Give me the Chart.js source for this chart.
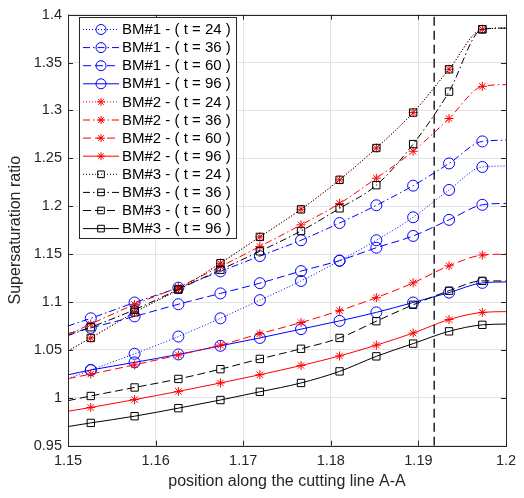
<!DOCTYPE html>
<html>
<head>
<meta charset="utf-8">
<script src="https://cdn.jsdelivr.net/npm/chart.js@4.4.1/dist/chart.umd.min.js"></script>
<style>
  body { margin: 0; background: #fff; }
  #wrap { width: 524px; height: 498px; }
</style>
</head>
<body>
<div id="wrap"><canvas id="ssChart" width="524" height="498"></canvas></div>
<script>
// marker positions along the cutting line (first/last points are the line ends, no marker)
const xPos = [1.15, 1.1526, 1.1576, 1.1626, 1.1674, 1.1719, 1.1766, 1.1810, 1.1852, 1.1894, 1.1935, 1.1973, 1.2];
const cutX = 1.1918;

const xTicks = [1.15, 1.16, 1.17, 1.18, 1.19, 1.2];
const yTicks = [0.95, 1, 1.05, 1.1, 1.15, 1.2, 1.25, 1.3, 1.35, 1.4];

const labels = [
    "BM#1 - ( t = 24 )", "BM#1 - ( t = 36 )", "BM#1 - ( t = 60 )", "BM#1 - ( t = 96 )",
    "BM#2 - ( t = 24 )", "BM#2 - ( t = 36 )", "BM#2 - ( t = 60 )", "BM#2 - ( t = 96 )",
    "BM#3 - ( t = 24 )", "BM#3 - ( t = 36 )", "BM#3 - ( t = 60 )", "BM#3 - ( t = 96 )"
];

const bm1_24 = [1.020, 1.029, 1.046, 1.064, 1.083, 1.102, 1.122, 1.143, 1.1645, 1.1885, 1.217, 1.241, 1.242];
const bm1_36 = [1.075, 1.083, 1.0995, 1.115, 1.132, 1.148, 1.1645, 1.1825, 1.201, 1.2215, 1.2447, 1.2677, 1.269];
const bm1_60 = [1.067, 1.073, 1.085, 1.0977, 1.109, 1.1197, 1.1323, 1.1433, 1.1567, 1.169, 1.1858, 1.2015, 1.203];
const bm1_96 = [1.024, 1.029, 1.037, 1.0453, 1.0543, 1.0625, 1.0717, 1.0803, 1.0892, 1.0995, 1.1098, 1.120, 1.121];
const bm2_24 = [1.049, 1.0625, 1.0892, 1.113, 1.1406, 1.168, 1.1968, 1.2276, 1.2608, 1.2978, 1.343, 1.3848, 1.386];
const bm2_36 = [1.066, 1.077, 1.0975, 1.1156, 1.137, 1.158, 1.1806, 1.2029, 1.2293, 1.2574, 1.2916, 1.3252, 1.327];
const bm2_60 = [1.020, 1.0248, 1.0344, 1.0447, 1.055, 1.0669, 1.0786, 1.091, 1.1046, 1.120, 1.1378, 1.1491, 1.150];
const bm2_96 = [0.986, 0.9899, 0.9981, 1.0067, 1.0155, 1.0241, 1.0337, 1.0437, 1.055, 1.0676, 1.0817, 1.0892, 1.090];
const bm3_24 = [1.049, 1.0625, 1.0892, 1.113, 1.1406, 1.168, 1.1968, 1.2276, 1.2608, 1.2978, 1.343, 1.3848, 1.386];
const bm3_36 = [1.065, 1.0737, 1.092, 1.1132, 1.1337, 1.153, 1.1742, 1.1978, 1.222, 1.2649, 1.3197, 1.3848, 1.386];
const bm3_60 = [0.997, 1.0019, 1.0108, 1.0197, 1.0299, 1.0406, 1.0512, 1.0625, 1.080, 1.0971, 1.1118, 1.1221, 1.122];
const bm3_96 = [0.970, 0.9738, 0.9808, 0.9892, 0.9977, 1.0063, 1.0155, 1.0276, 1.0433, 1.0566, 1.0694, 1.0762, 1.077];

const allSeries = [bm1_24, bm1_36, bm1_60, bm1_96, bm2_24, bm2_36, bm2_60, bm2_96, bm3_24, bm3_36, bm3_60, bm3_96];

const colors = ["#0000ff", "#ff0000", "#000000"];
const markers = ["circle", "star", "rect"];
const markerRadius = { circle: 5.5, star: 4.5, rect: 5.2 };
const dashes = [[1, 2], [7, 3, 1.5, 3], [8, 4], []];

const FONT = "'Liberation Sans', Arial, sans-serif";
const TXT = "#262626";

const datasets = allSeries.map((vals, i) => {
    const group = Math.floor(i / 4);
    const style = markers[group];
    const r = markerRadius[style];
    return {
        label: labels[i],
        data: vals.map((v, k) => ({ x: xPos[k], y: v })),
        showLine: true,
        borderColor: colors[group],
        backgroundColor: "rgba(0,0,0,0)",
        borderWidth: 1,
        borderDash: dashes[i % 4],
        cubicInterpolationMode: "monotone",
        pointStyle: style,
        pointRadius: vals.map((v, k) => (k === 0 || k === vals.length - 1) ? 0 : r),
        pointBorderColor: colors[group],
        pointBackgroundColor: "rgba(0,0,0,0)",
        pointBorderWidth: 1,
        order: -i
    };
});

// the dashed vertical marker line
datasets.push({
    label: "cut",
    data: [{ x: cutX, y: yTicks[0] }, { x: cutX, y: yTicks[yTicks.length - 1] }],
    showLine: true,
    borderColor: "#000",
    borderWidth: 1.3,
    borderDash: [9, 5],
    pointRadius: 0,
    order: -20
});

function drawMarker(ctx, style, x, y, r) {
    ctx.beginPath();
    if (style === "circle") {
        ctx.arc(x, y, r, 0, Math.PI * 2);
    } else if (style === "rect") {
        const s = Math.SQRT1_2 * r;
        ctx.rect(x - s, y - s, 2 * s, 2 * s);
    } else {
        for (let a = 0; a < 4; a++) {
            const ang = a * Math.PI / 4;
            ctx.moveTo(x - Math.cos(ang) * r, y - Math.sin(ang) * r);
            ctx.lineTo(x + Math.cos(ang) * r, y + Math.sin(ang) * r);
        }
    }
    ctx.stroke();
}

const framePlugin = {
    id: "frame",
    afterDraw(chart) {
        const ctx = chart.ctx;
        const a = chart.chartArea;
        const xs = chart.scales.x, ys = chart.scales.y;
        ctx.save();
        // box and inward ticks
        ctx.strokeStyle = TXT;
        ctx.lineWidth = 1;
        ctx.setLineDash([]);
        ctx.strokeRect(Math.round(a.left) + 0.5, Math.round(a.top) + 0.5,
            Math.round(a.right - a.left), Math.round(a.bottom - a.top));
        ctx.beginPath();
        xTicks.forEach(t => {
            const px = Math.round(xs.getPixelForValue(t)) + 0.5;
            ctx.moveTo(px, a.bottom); ctx.lineTo(px, a.bottom - 5);
            ctx.moveTo(px, a.top); ctx.lineTo(px, a.top + 5);
        });
        yTicks.forEach(t => {
            const py = Math.round(ys.getPixelForValue(t)) + 0.5;
            ctx.moveTo(a.left, py); ctx.lineTo(a.left + 5, py);
            ctx.moveTo(a.right, py); ctx.lineTo(a.right - 5, py);
        });
        ctx.stroke();

        // axis titles
        ctx.fillStyle = TXT;
        ctx.font = "16px " + FONT;
        ctx.textAlign = "center";
        ctx.textBaseline = "middle";
        ctx.fillText("position along the cutting line A-A", (a.left + a.right) / 2, 482);
        ctx.save();
        ctx.translate(16, (a.top + a.bottom) / 2);
        ctx.rotate(-Math.PI / 2);
        ctx.fillText("Supersaturation ratio", 0, 0);
        ctx.restore();

        // legend
        const lx = 79, ly = 17, lw = 157, lh = 221;
        ctx.fillStyle = "#fff";
        ctx.fillRect(lx, ly, lw, lh);
        ctx.strokeStyle = TXT;
        ctx.strokeRect(lx + 0.5, ly + 0.5, lw, lh);
        ctx.font = "15px " + FONT;
        ctx.textAlign = "left";
        labels.forEach((txt, i) => {
            const group = Math.floor(i / 4);
            const cy = 29.5 + i * 18.1;
            ctx.strokeStyle = colors[group];
            ctx.lineWidth = 1;
            ctx.setLineDash(dashes[i % 4]);
            ctx.beginPath();
            ctx.moveTo(83, cy); ctx.lineTo(119, cy);
            ctx.stroke();
            ctx.setLineDash([]);
            drawMarker(ctx, markers[group], 101, cy, markerRadius[markers[group]] - 0.5);
            ctx.fillStyle = "#000";
            ctx.fillText(txt, 122, cy + 0.5);
        });
        ctx.restore();
    }
};

new Chart(document.getElementById("ssChart").getContext("2d"), {
    type: "scatter",
    data: { datasets: datasets },
    options: {
        responsive: false,
        animation: false,
        devicePixelRatio: 1,
        layout: { padding: { top: 7.5, right: 18, left: 0, bottom: 0 } },
        plugins: {
            legend: { display: false },
            tooltip: { enabled: false }
        },
        scales: {
            x: {
                type: "linear",
                min: 1.15,
                max: 1.2,
                afterFit: s => { s.height = 52.3; },
                afterBuildTicks: s => { s.ticks = xTicks.map(v => ({ value: v })); },
                grid: { color: "#e3e3e3", drawTicks: false },
                border: { display: false },
                ticks: {
                    color: TXT,
                    padding: 7,
                    font: { family: FONT, size: 14.5 },
                    callback: v => String(parseFloat(v.toFixed(2)))
                }
            },
            y: {
                type: "linear",
                min: 0.95,
                max: 1.4,
                afterFit: s => { s.width = 68; },
                afterBuildTicks: s => { s.ticks = yTicks.map(v => ({ value: v })); },
                grid: { color: "#e3e3e3", drawTicks: false },
                border: { display: false },
                ticks: {
                    color: TXT,
                    padding: 6,
                    font: { family: FONT, size: 14.5 },
                    callback: v => String(parseFloat(v.toFixed(2)))
                }
            }
        }
    },
    plugins: [framePlugin]
});
</script>
</body>
</html>
